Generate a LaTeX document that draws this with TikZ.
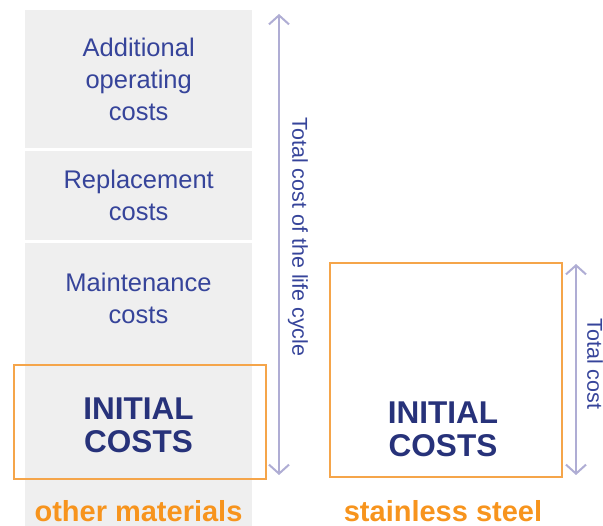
\documentclass[tikz,border=0pt]{standalone}
\usepackage{fontspec}
\setmainfont{Liberation Sans}
\usetikzlibrary{arrows.meta}
\definecolor{panelgray}{HTML}{EFEFEF}
\definecolor{txtblue}{HTML}{36449A}
\definecolor{boldblue}{HTML}{27327A}
\definecolor{boxorange}{HTML}{F5A54A}
\definecolor{lblorange}{HTML}{F7941D}
\definecolor{arrowlav}{HTML}{AFADD4}
\tikzset{
  panel/.style={fill=panelgray, draw=none, inner sep=0pt, anchor=north west},
  costtext/.style={text=txtblue, align=center, font=\fontsize{25.5}{32}\selectfont},
  initext/.style={text=boldblue, align=center, font=\bfseries\fontsize{31.5}{33}\selectfont},
  lbl/.style={text=lblorange, font=\bfseries\fontsize{29}{30}\selectfont},
  obox/.style={draw=boxorange, line width=2.2pt, inner sep=0pt, anchor=north west},
  barb/.tip={Straight Barb[length=9pt,width=20pt,line width=2pt]},
  dimarrow/.style={draw=arrowlav, line width=2pt, barb-barb},
  dimtext/.style={text=txtblue, rotate=-90, font=\fontsize{21.5}{24}\selectfont}
}
\begin{document}
\begin{tikzpicture}[x=1pt,y=-1pt]
\useasboundingbox (0,0) rectangle (603,526);
% gray panels
\node[panel, minimum width=227pt, minimum height=138pt] (p1) at (25,10) {};
\node[panel, minimum width=227pt, minimum height=89pt] (p2) at (25,151) {};
\node[panel, minimum width=227pt, minimum height=283pt] (p3) at (25,243) {};
% texts
\node[costtext] (t1) at (p1.center) {Additional\\operating\\costs};
\node[costtext] (t2) at (p2.center) {Replacement\\costs};
\node[costtext] (t3) at (138.5,298) {Maintenance\\costs};
% left orange box
\node[obox, minimum width=252pt, minimum height=114pt] (lb) at (13,364) {};
\node[initext] (i1) at (138.5,425) {INITIAL\\COSTS};
% right orange box
\node[obox, fill=white, minimum width=232pt, minimum height=214pt] (rb) at (329,262) {};
\node[initext] (i2) at (443,429) {INITIAL\\COSTS};
% arrows
\coordinate (a1t) at (279,14);
\coordinate (a1b) at (279,475);
\draw[dimarrow] (a1t) -- (a1b);
\node[dimtext] (d1) at (298,237) {Total cost of the life cycle};
\coordinate (a2t) at (576,264);
\coordinate (a2b) at (576,475);
\draw[dimarrow] (a2t) -- (a2b);
\node[dimtext] (d2) at (595,364) {Total cost};
% labels
\node[lbl] (l1) at (138.5,511) {other materials};
\node[lbl] (l2) at (443,511) {stainless steel};
\end{tikzpicture}
\end{document}
